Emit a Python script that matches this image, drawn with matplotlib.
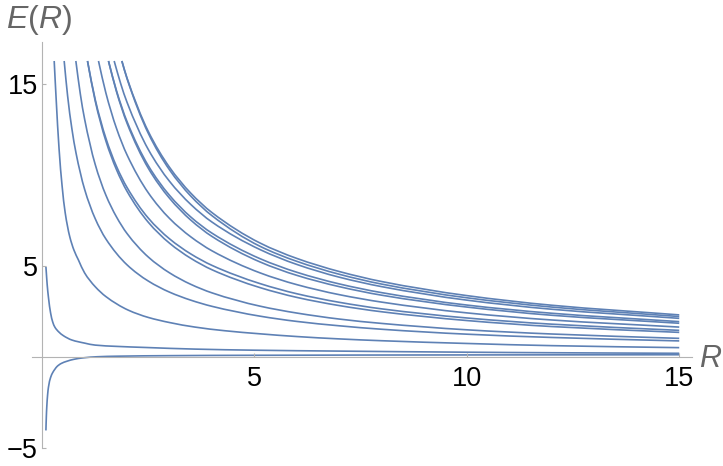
import matplotlib
matplotlib.use("Agg")
import matplotlib.pyplot as plt
from matplotlib.path import Path
from matplotlib.patches import PathPatch

# ---- data (R, E(R)) ----
r_a = [1.878, 2, 2.5, 3, 3.5, 4, 5.13, 6, 7, 8, 10, 12, 15]
e_a = [16.24, 15.30, 12.37, 10.40, 8.98, 7.91, 6.24, 5.39, 4.67, 4.12, 3.35, 2.82, 2.29]
r_b = [1.878, 2, 2.5, 3, 3.5, 4, 5.13, 6, 7, 8, 10, 12, 15]
e_b = [16.24, 15.27, 12.27, 10.26, 8.82, 7.74, 6.06, 5.23, 4.52, 3.98, 3.23, 2.72, 2.20]
r_c = [1.697, 1.85, 2, 2.5, 3, 3.5, 4, 5.13, 6, 7, 8, 10, 12, 15]
e_c = [16.24, 15.00, 13.97, 11.38, 9.63, 8.36, 7.39, 5.88, 5.06, 4.36, 3.84, 3.10, 2.60, 2.10]
r_d = [1.563, 1.75, 2, 2.5, 3, 3.5, 4, 5.13, 6, 7, 8, 10, 12, 15]
e_d = [16.24, 14.62, 12.91, 10.49, 8.86, 7.67, 6.78, 5.38, 4.63, 3.99, 3.51, 2.83, 2.38, 1.92]
r_e = [1.563, 1.75, 2, 2.5, 3, 3.5, 4, 5.13, 6, 7, 8, 10, 12, 15]
e_e = [16.24, 14.57, 12.82, 10.35, 8.70, 7.50, 6.60, 5.20, 4.46, 3.84, 3.37, 2.72, 2.27, 1.83]
r_f = [1.328, 1.5, 1.75, 2, 2.5, 3, 3.5, 4, 5.13, 6, 7, 8, 10, 12, 15]
e_f = [16.24, 14.50, 12.55, 11.08, 9.00, 7.59, 6.58, 5.81, 4.60, 3.95, 3.40, 2.99, 2.40, 2.01, 1.62]
r_g = [1.069, 1.25, 1.5, 1.75, 2, 2.5, 3, 3.5, 4, 5.13, 6, 7, 8, 10, 12, 15]
e_g = [16.24, 14.13, 12.01, 10.46, 9.29, 7.61, 6.47, 5.64, 5.01, 4.01, 3.45, 2.98, 2.62, 2.12, 1.78, 1.44]
r_h = [1.069, 1.25, 1.5, 1.75, 2, 2.5, 3, 3.5, 4, 5.13, 6, 7, 8, 10, 12, 15]
e_h = [16.24, 14.05, 11.86, 10.28, 9.08, 7.38, 6.23, 5.40, 4.77, 3.79, 3.25, 2.80, 2.46, 1.98, 1.65, 1.33]
r_i = [0.795, 0.9, 1, 1.25, 1.5, 1.75, 2, 2.5, 3, 3.5, 4, 5.13, 6, 7, 8, 10, 12, 15]
e_i = [16.24, 14.43, 13.06, 10.56, 8.88, 7.68, 6.76, 5.47, 4.60, 3.97, 3.50, 2.77, 2.39, 2.06, 1.82, 1.47, 1.24, 1.00]
r_j = [0.52, 0.6, 0.7, 0.8, 1, 1.25, 1.5, 2, 2.5, 3, 3.5, 4, 5.13, 6, 7, 8, 10, 12, 15]
e_j = [16.24, 14.34, 12.54, 11.17, 9.20, 7.58, 6.47, 5.04, 4.15, 3.54, 3.10, 2.76, 2.22, 1.93, 1.69, 1.50, 1.23, 1.05, 0.86]
r_k = [0.285, 0.33, 0.4, 0.47, 0.544, 0.65, 0.75, 0.857, 1.0, 1.25, 1.5, 2.03, 2.5, 3, 3.6, 4.3, 5.13, 6, 7, 8, 10, 12, 15]
e_k = [16.24, 14.2, 11.4, 9.4, 7.9, 6.6, 5.85, 5.3, 4.6, 3.84, 3.3, 2.55, 2.15, 1.87, 1.62, 1.42, 1.25, 1.1, 0.97, 0.87, 0.72, 0.6, 0.49]
r_l = [0.09, 0.1, 0.12, 0.15, 0.2, 0.25, 0.3, 0.39, 0.5, 0.7, 1.0, 1.25, 1.75, 2.43, 3.6, 5, 7, 10, 12, 15]
e_l = [4.93, 4.6, 3.95, 3.25, 2.4, 1.9, 1.62, 1.36, 1.15, 0.91, 0.74, 0.63, 0.56, 0.50, 0.41, 0.35, 0.30, 0.24, 0.21, 0.18]
r_m = [0.09, 0.1, 0.11, 0.13, 0.15, 0.2, 0.25, 0.3, 0.35, 0.45, 0.58, 0.75, 0.97, 1.3, 1.76, 3, 5, 10, 15]
e_m = [-4.06, -3.3, -2.78, -2.1, -1.68, -1.15, -0.88, -0.7, -0.55, -0.38, -0.26, -0.15, -0.07, -0.01, 0.02, 0.05, 0.07, 0.09, 0.10]

x_ticks = [5, 10, 15]
y_ticks = [-5, 5, 15]

curves = [(r_a, e_a), (r_b, e_b), (r_c, e_c), (r_d, e_d), (r_e, e_e), (r_f, e_f),
          (r_g, e_g), (r_h, e_h), (r_i, e_i), (r_j, e_j), (r_k, e_k), (r_l, e_l), (r_m, e_m)]

# ---- styling ----
plt.rcParams['font.family'] = ['Liberation Sans', 'DejaVu Sans']
plt.rcParams['mathtext.fontset'] = 'custom'
plt.rcParams['mathtext.it'] = 'Liberation Sans:italic'
plt.rcParams['mathtext.rm'] = 'Liberation Sans'

LINE = '#5e81b5'
AXC = '#b3b3b3'
LABC = '#666666'


def smooth_path(x, y):
    """Bezier path through the read points (monotone cubic tangents)."""
    n = len(x)
    h = [x[i + 1] - x[i] for i in range(n - 1)]
    d = [(y[i + 1] - y[i]) / h[i] for i in range(n - 1)]
    m = [0.0] * n
    m[0] = d[0]
    m[-1] = d[-1]
    for k in range(1, n - 1):
        if d[k - 1] * d[k] <= 0:
            m[k] = 0.0
        else:
            w1 = 2 * h[k] + h[k - 1]
            w2 = h[k] + 2 * h[k - 1]
            m[k] = (w1 + w2) / (w1 / d[k - 1] + w2 / d[k])
    verts = [(x[0], y[0])]
    codes = [Path.MOVETO]
    for i in range(n - 1):
        verts += [(x[i] + h[i] / 3, y[i] + m[i] * h[i] / 3),
                  (x[i + 1] - h[i] / 3, y[i + 1] - m[i + 1] * h[i] / 3),
                  (x[i + 1], y[i + 1])]
        codes += [Path.CURVE4] * 3
    return Path(verts, codes)


fig = plt.figure(figsize=(7.23, 4.66), dpi=100)
ax = fig.add_axes([0.0447, 0.0376, 0.9124, 0.8729])

for r, e in curves:
    ax.add_patch(PathPatch(smooth_path(r, e), facecolor='none',
                           edgecolor=LINE, lw=1.2, capstyle='butt'))

ax.set_xlim(-0.23, 15.3)
ax.set_ylim(-5.05, 17.3)

for s in ['top', 'right']:
    ax.spines[s].set_visible(False)
ax.spines['left'].set_position(('data', 0))
ax.spines['bottom'].set_position(('data', 0))
for s in ['left', 'bottom']:
    ax.spines[s].set_color(AXC)
    ax.spines[s].set_linewidth(0.8)

ax.set_xticks(x_ticks)
ax.set_yticks(y_ticks)
ax.set_xticklabels([str(v) for v in x_ticks])
ax.set_yticklabels(['\u2212' + str(-v) if v < 0 else str(v) for v in y_ticks])
ax.tick_params(axis='x', direction='in', length=3, width=0.8, color=AXC,
               labelsize=19.5, pad=7, labelcolor='black')
ax.tick_params(axis='y', direction='in', length=3, width=0.8, color=AXC,
               labelsize=19.5, pad=3, labelcolor='black')
ax.minorticks_off()

fig.text(6 / 723, 1 - 3 / 466, r'$E(R)$', color=LABC, fontsize=23,
         ha='left', va='top')
fig.text(699 / 723, 1 - 367 / 466, r'$R$', color=LABC, fontsize=22,
         ha='left', va='baseline')

fig.savefig('out.png', dpi=100)
